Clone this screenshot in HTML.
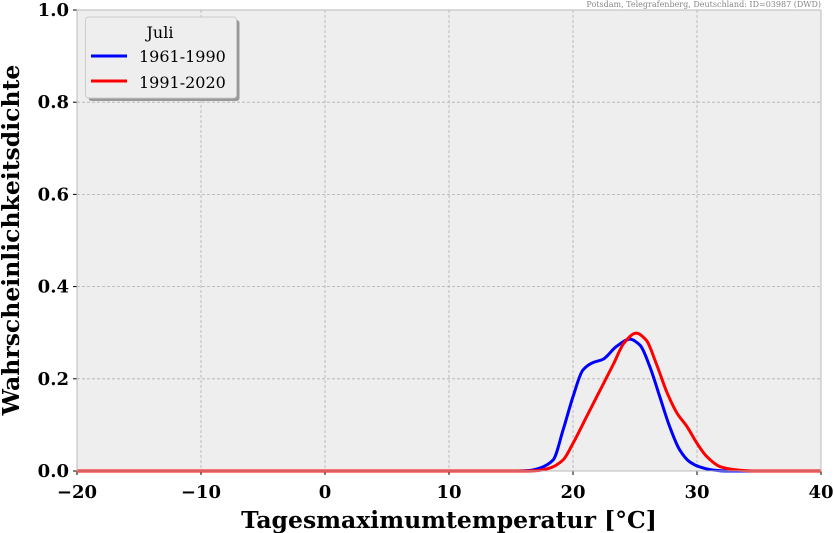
<!DOCTYPE html>
<html><head><meta charset="utf-8"><style>
body{margin:0;background:#fff;}
svg{display:block;font-family:"DejaVu Serif","Liberation Serif",serif;}
</style></head><body>
<svg id="chart" width="834" height="533">
<rect x="77" y="10" width="744" height="461" fill="#eeeeee"/>
<g id="grid"></g>
<g id="ticks"></g>
<g id="series"></g>
<rect x="77" y="10" width="744" height="461" fill="none" stroke="#bbbbbb" stroke-width="1"/>
<text x="821" y="7" font-size="8" fill="#888" text-anchor="end">Potsdam, Telegrafenberg, Deutschland: ID=03987 (DWD)</text>
<text x="449" y="528" font-size="23.5" font-weight="bold" text-anchor="middle">Tagesmaximumtemperatur [°C]</text>
<text transform="translate(19,240) rotate(-90)" font-size="23.5" font-weight="bold" text-anchor="middle">Wahrscheinlichkeitsdichte</text>
<g>
<rect x="88.5" y="20" width="151" height="81" rx="3" fill="#999"/>
<rect x="85.5" y="17" width="151" height="81" rx="3" fill="#eeeeee" stroke="#ccc"/>
<text x="160" y="38" font-size="16" text-anchor="middle">Juli</text>
<line x1="91" y1="56" x2="127" y2="56" stroke="#0000ff" stroke-width="3"/>
<text x="139" y="62" font-size="16">1961-1990</text>
<line x1="91" y1="81" x2="127" y2="81" stroke="#ff0000" stroke-width="3"/>
<text x="139" y="88" font-size="16">1991-2020</text>
</g>
</svg>
<script>
const xTicks=[-20,-10,0,10,20,30,40];
const yTicks=[0.0,0.2,0.4,0.6,0.8,1.0];
const xTickLabels=["\u221220","\u221210","0","10","20","30","40"];
const yTickLabels=["0.0","0.2","0.4","0.6","0.8","1.0"];
const tempsA=[-20,15.5,16.5,17.3,18.4,19.2,20.0,20.8,21.6,22.4,23.5,24.6,25.4,26.2,27.0,27.8,28.6,29.4,30.2,31.3,32.5,40];
const densA=[0,0,0.001,0.006,0.024,0.089,0.161,0.219,0.235,0.242,0.270,0.286,0.273,0.226,0.161,0.096,0.046,0.020,0.009,0.002,0,0];
const tempsB=[-20,16.3,17.2,18.1,19.2,20.0,21.1,22.2,23.3,24.1,25.1,25.9,26.7,27.6,28.4,29.2,30.0,30.8,31.9,33.0,34.5,40];
const densB=[0,0,0.001,0.006,0.024,0.060,0.118,0.176,0.234,0.277,0.299,0.284,0.234,0.169,0.125,0.096,0.060,0.031,0.009,0.003,0,0];
const NS="http://www.w3.org/2000/svg";
const X0=77,X1=821,Y0=471,Y1=10;
function xs(v){return X0+(v+20)/60*(X1-X0);}
function ys(v){return Y0-v*(Y0-Y1);}
function mk(tag,attrs,parent){const e=document.createElementNS(NS,tag);for(const k in attrs)e.setAttribute(k,attrs[k]);parent.appendChild(e);return e;}
const grid=document.getElementById('grid'),ticks=document.getElementById('ticks'),series=document.getElementById('series');
xTicks.forEach((t,i)=>{
  const x=xs(t);
  if(i>0&&i<xTicks.length-1){const g=mk('line',{x1:x,y1:Y1,x2:x,y2:Y0,stroke:'#b0b0b0','stroke-dasharray':'3,2','stroke-width':0.8},grid);
  
  }
  const tk=mk('line',{x1:x,y1:Y0,x2:x,y2:Y0+4,stroke:'#000'},ticks);
  
  
  const tx=mk('text',{x:x,y:Y0+27,'font-size':18,'font-weight':'bold','text-anchor':'middle'},ticks);
  tx.textContent=xTickLabels[i];
  
  
});
yTicks.forEach((t,i)=>{
  const y=ys(t);
  if(i>0&&i<yTicks.length-1){const g=mk('line',{x1:X0,y1:y,x2:X1,y2:y,stroke:'#b0b0b0','stroke-dasharray':'3,2','stroke-width':0.8},grid);
  
  }
  const tk=mk('line',{x1:X0-4,y1:y,x2:X0,y2:y,stroke:'#000'},ticks);
  
  
  const tx=mk('text',{x:X0-8,y:y+6,'font-size':18,'font-weight':'bold','text-anchor':'end'},ticks);
  tx.textContent=yTickLabels[i];
  
  
});
// monotone cubic (Fritsch-Carlson) in data space, drawn as bezier
function pathFor(tx,dy){
  const n=tx.length,h=[],s=[],m=new Array(n);
  for(let i=0;i<n-1;i++){h[i]=tx[i+1]-tx[i];s[i]=(dy[i+1]-dy[i])/h[i];}
  m[0]=s[0];m[n-1]=s[n-2];
  for(let i=1;i<n-1;i++){
    if(s[i-1]*s[i]<=0)m[i]=0;
    else{const w1=2*h[i]+h[i-1],w2=h[i]+2*h[i-1];m[i]=(w1+w2)/(w1/s[i-1]+w2/s[i]);}
  }
  let d='M'+xs(tx[0])+','+ys(dy[0]);
  for(let i=0;i<n-1;i++){
    const c1x=tx[i]+h[i]/3,c1y=dy[i]+m[i]*h[i]/3,c2x=tx[i+1]-h[i]/3,c2y=dy[i+1]-m[i+1]*h[i]/3;
    d+=' C'+xs(c1x)+','+ys(c1y)+' '+xs(c2x)+','+ys(c2y)+' '+xs(tx[i+1])+','+ys(dy[i+1]);
  }
  return d;
}
const la=mk('path',{d:pathFor(tempsA,densA),fill:'none',stroke:'#0000ff','stroke-width':3,'stroke-linejoin':'round'},series);


const lb=mk('path',{d:pathFor(tempsB,densB),fill:'none',stroke:'#ff0000','stroke-width':3,'stroke-linejoin':'round'},series);


</script>
</body></html>
